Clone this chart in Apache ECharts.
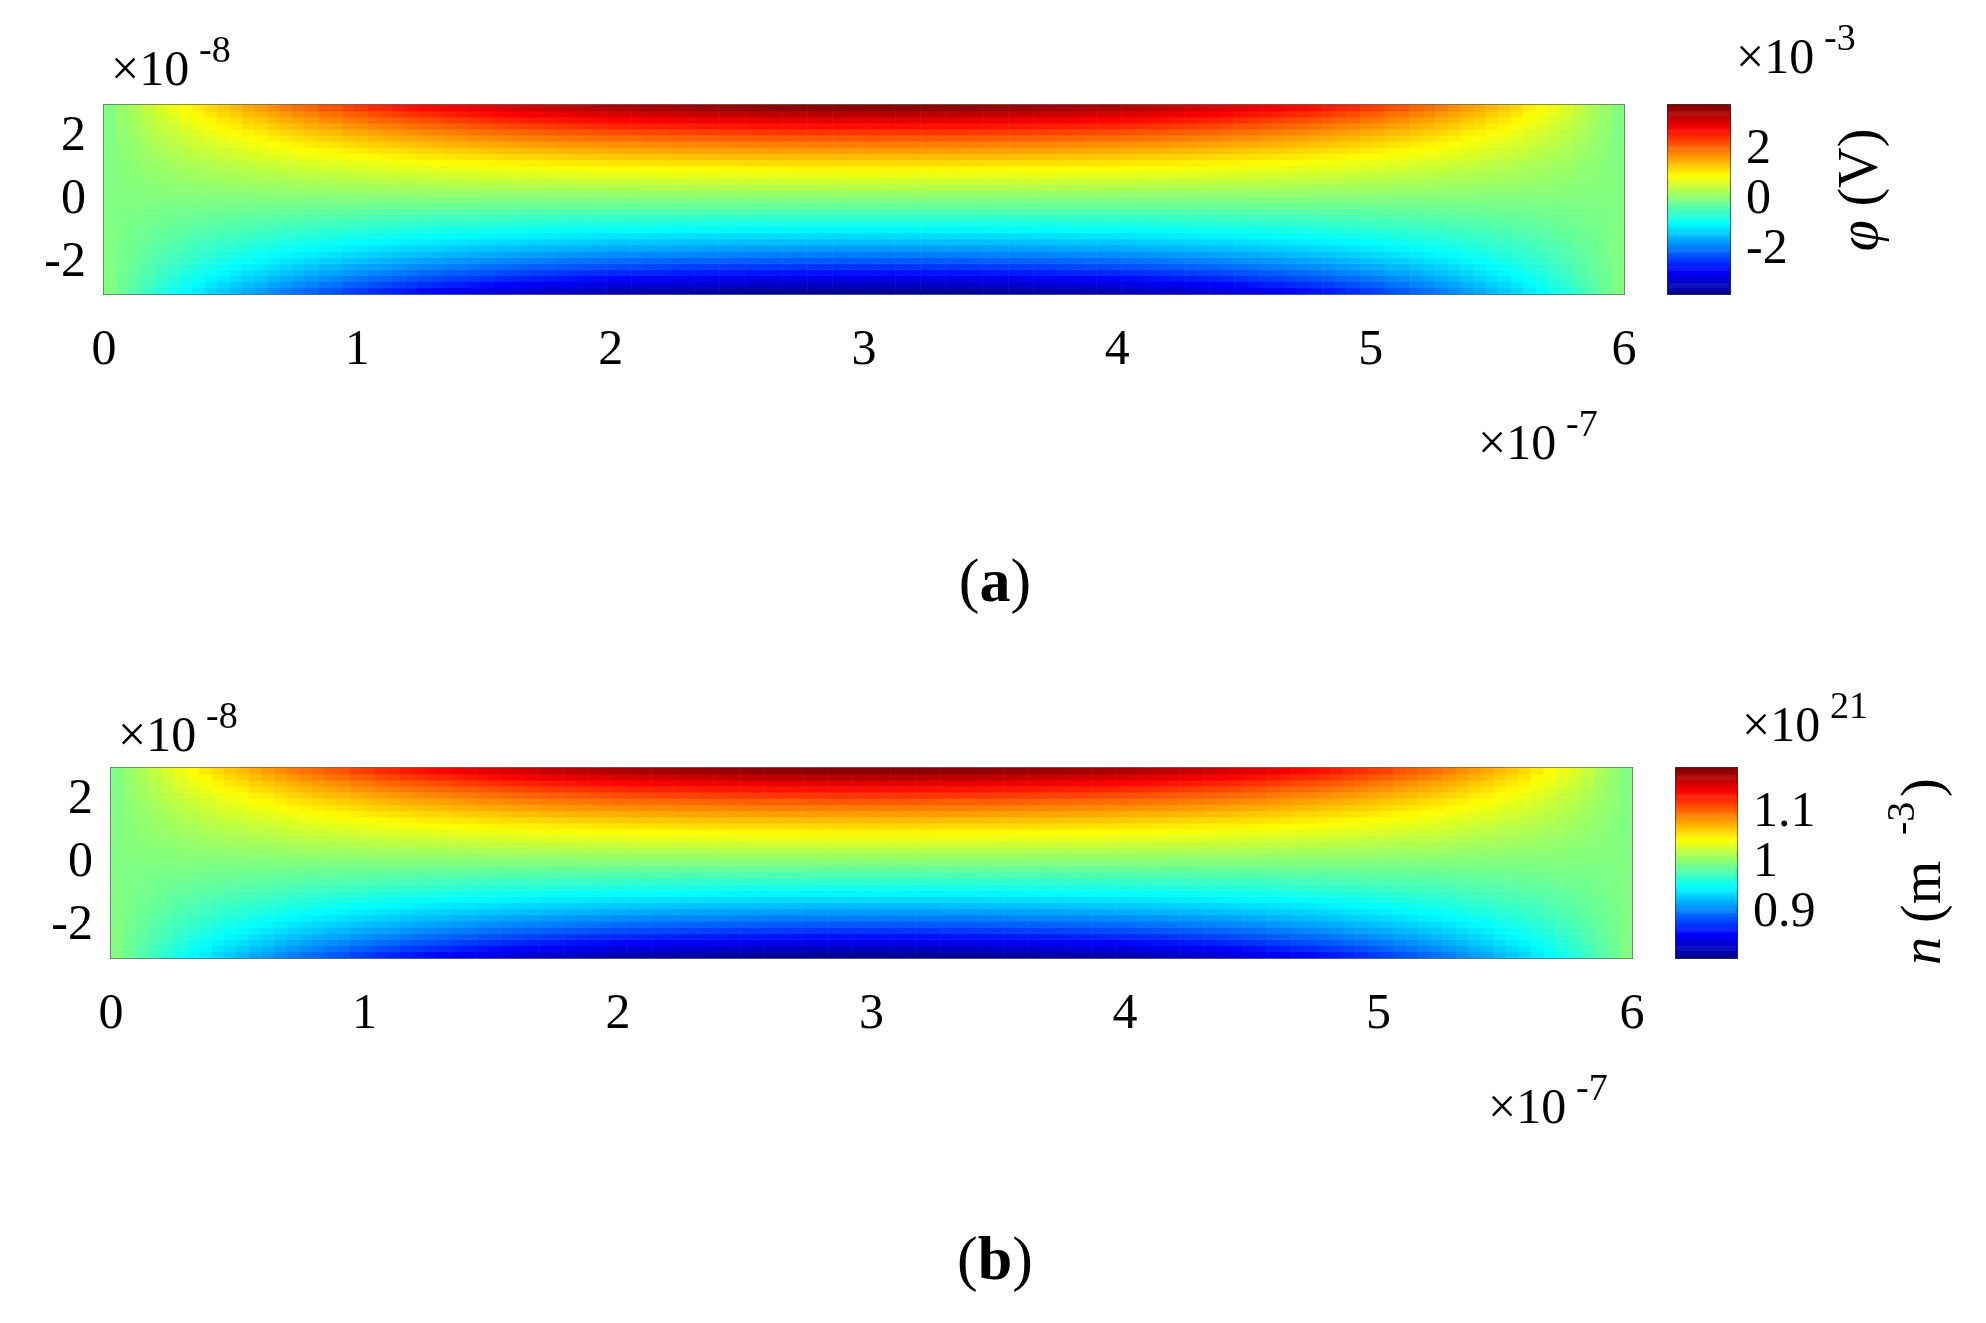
<!DOCTYPE html>
<html><head><meta charset="utf-8">
<script src="https://cdn.jsdelivr.net/npm/echarts@6/dist/echarts.min.js"></script>
<style>html,body{margin:0;background:#fff}#c{width:1986px;height:1323px}</style>
</head><body><div id="c"></div>
<script>
// x profile, left half (x = 0 .. 3 ×1e-7, step 0.05), normalized; field is symmetric about x = 3
const xProfileHalf = [0,.048,.09,.135,.18,.217,.26,.293,.33,.362,.39,.425,.45,.483,.51,.538,.56,.587,.60,.632,
  .65,.674,.69,.712,.73,.748,.76,.779,.79,.808,.82,.835,.85,.860,.87,.880,.89,.901,.91,.918,
  .93,.934,.94,.948,.95,.960,.96,.970,.97,.978,.98,.986,.99,.991,.99,.996,1,.999,1,1,1];
const xProfile = xProfileHalf.concat(xProfileHalf.slice(0, -1).reverse());
// y profile (y = -3 .. 3 ×1e-8, step 0.2)
const yProfile = [-1,-.907,-.820,-.738,-.661,-.589,-.519,-.454,-.391,-.330,-.272,-.216,-.161,-.106,-.053,0,
  .053,.106,.161,.216,.272,.330,.391,.454,.519,.589,.661,.738,.820,.907,1];
const phiPeak = 3.7;      // ×1e-3 V
const phiRange = [-3.78, 3.78];
const nBase = 1, nPeak = 0.185; // ×1e21 m^-3
const nRange = [0.811, 1.189];
const xTicks = [0,1,2,3,4,5,6];
const yTicks = [-2,0,2];
const phiTicks = [-2,0,2];
const nTicks = [0.9,1,1.1];

const jet = ['#00008f','#0000ff','#0080ff','#00ffff','#80ff80','#ffff00','#ff8000','#ff0000','#800000'];
const FF = "'Liberation Serif', 'Times New Roman', 'DejaVu Serif', serif";
const xIdx = xProfile.map((_, i) => i), yIdx = yProfile.map((_, j) => j);
const phiData = [], nData = [];
xProfile.forEach((f, i) => yProfile.forEach((g, j) => {
  phiData.push([i, j, phiPeak * f * g]);
  nData.push([i, j, nBase + nPeak * f * g]);
}));
const NB = 200;
const barIdx = Array.from({length: NB}, (_, k) => k);
const barData = r => barIdx.map(k => [0, k, r[0] + (r[1] - r[0]) * (k + 0.5) / NB]);

const panels = [
  {plot:{left:104,top:105,width:1520,height:189}, bar:{left:1668,top:105,width:62,height:189}, data:phiData, range:phiRange, ticks:phiTicks},
  {plot:{left:111,top:768,width:1521,height:190}, bar:{left:1676,top:768,width:61,height:190}, data:nData, range:nRange, ticks:nTicks}
];
const grid = [], xAxis = [], yAxis = [], series = [], visualMap = [];
const lab = {fontFamily: FF, fontSize: 50, color: '#000'};
panels.forEach((p, k) => {
  grid.push(Object.assign({}, p.plot)); grid.push(Object.assign({}, p.bar));
  grid.push(Object.assign({show:true, borderColor:'#666', borderWidth:2}, p.plot));
  grid.push(Object.assign({show:true, borderColor:'#333', borderWidth:2}, p.bar));
  const g0 = grid.length - 4;
  xAxis.push({gridIndex:g0, type:'category', data:xIdx, show:false});
  yAxis.push({gridIndex:g0, type:'category', data:yIdx, show:false});
  xAxis.push({gridIndex:g0+1, type:'category', data:[0], show:false});
  yAxis.push({gridIndex:g0+1, type:'category', data:barIdx, show:false});
  xAxis.push({gridIndex:g0+2, type:'value', min:0, max:6, interval:1, position:'bottom',
    axisLine:{show:false}, splitLine:{show:false},
    axisTick:{inside:true, length:6, lineStyle:{color:'#666'}},
    axisLabel:Object.assign({margin:32}, lab)});
  yAxis.push({gridIndex:g0+2, type:'value', min:-3, max:3,
    axisLine:{show:false}, splitLine:{show:false},
    axisTick:{inside:true, length:6, customValues:yTicks, lineStyle:{color:'#666'}},
    axisLabel:Object.assign({margin:18, customValues:yTicks}, lab)});
  xAxis.push({gridIndex:g0+3, type:'value', min:0, max:1, show:false});
  yAxis.push({gridIndex:g0+3, type:'value', min:p.range[0], max:p.range[1], position:'right',
    axisLine:{show:false}, splitLine:{show:false},
    axisTick:{show:false},
    axisLabel:Object.assign({margin:16, customValues:p.ticks}, lab)});
  const a0 = xAxis.length - 4;
  series.push({type:'heatmap', xAxisIndex:a0, yAxisIndex:a0, data:p.data, itemStyle:{borderWidth:0}, progressive:0, animation:false});
  series.push({type:'heatmap', xAxisIndex:a0+1, yAxisIndex:a0+1, data:barData(p.range), itemStyle:{borderWidth:0}, progressive:0, animation:false});
  visualMap.push({show:false, min:p.range[0], max:p.range[1], seriesIndex:[series.length-2, series.length-1], inRange:{color:jet}});
});

function txt(x, y, s, size, extra) {
  return Object.assign({type:'text', x, y, style:{text:s, fontFamily:FF, fontSize:size, fill:'#000', textAlign:'left', textVerticalAlign:'middle'}}, extra || {});
}
function sci(x, y, exp) {
  return [txt(x, y, '×10', 50), txt(x + 88, y - 20, exp, 38)];
}
const graphic = [
  ...sci(111, 72, '-8'), ...sci(1478, 446, '-7'), ...sci(1736, 60, '-3'),
  ...sci(118, 738, '-8'), ...sci(1488, 1110, '-7'), ...sci(1742, 728, '21'),
  {type:'group', x:1862, y:190, rotation:Math.PI/2, children:[
    {type:'text', x:0, y:0, style:{text:'{i|φ} (V)', fontFamily:FF, fontSize:56, fill:'#000', align:'center', verticalAlign:'middle',
      rich:{i:{fontStyle:'italic', fontFamily:FF, fontSize:56}}}}]},
  {type:'group', x:1925, y:845, rotation:Math.PI/2, children:[
    {type:'text', x:-120, y:0, style:{text:'{i|n} (m', fontFamily:FF, fontSize:56, fill:'#000', align:'left', verticalAlign:'middle',
      rich:{i:{fontStyle:'italic', fontFamily:FF, fontSize:56}}}},
    {type:'text', x:10, y:-22, style:{text:'-3', fontFamily:FF, fontSize:40, fill:'#000', align:'left', verticalAlign:'middle'}},
    {type:'text', x:48, y:0, style:{text:')', fontFamily:FF, fontSize:56, fill:'#000', align:'left', verticalAlign:'middle'}}]},
  {type:'text', x:995, y:585, style:{text:'({b|a})', fontFamily:FF, fontSize:62, fill:'#000', align:'center', verticalAlign:'middle',
    rich:{b:{fontWeight:'bold', fontFamily:FF, fontSize:62}}}},
  {type:'text', x:995, y:1263, style:{text:'({b|b})', fontFamily:FF, fontSize:62, fill:'#000', align:'center', verticalAlign:'middle',
    rich:{b:{fontWeight:'bold', fontFamily:FF, fontSize:62}}}}
];
const chart = echarts.init(document.getElementById('c'));
chart.setOption({animation:false, backgroundColor:'#fff', grid, xAxis, yAxis, series, visualMap, graphic});
</script></body></html>
